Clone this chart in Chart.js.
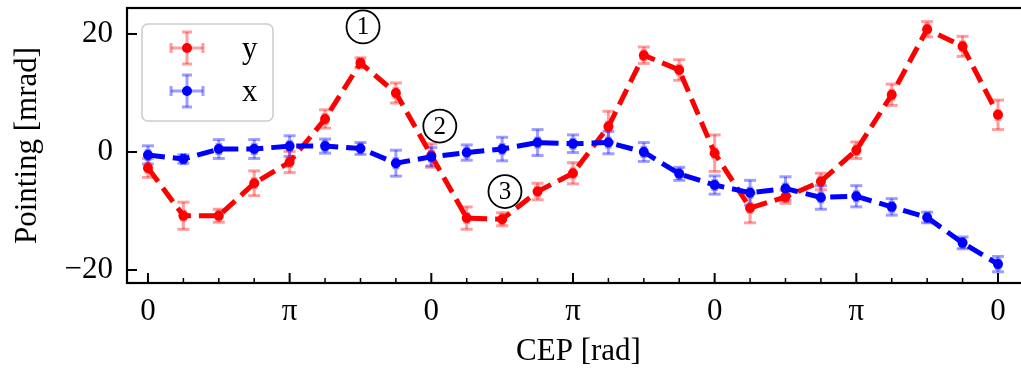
<!DOCTYPE html>
<html>
<head>
<meta charset="utf-8">
<script src="https://cdn.jsdelivr.net/npm/chart.js@4"></script>
<style>
  html, body { margin: 0; padding: 0; background: #fff; overflow: hidden; }
  #wrap { width: 1035px; height: 369px; }
</style>
</head>
<body>
<div id="wrap"><canvas id="chart"></canvas></div>
<script>
// CEP steps in units of pi/4
const cepSteps = [0, 1, 2, 3, 4, 5, 6, 7, 8, 9, 10, 11, 12, 13, 14, 15, 16, 17, 18, 19, 20, 21, 22, 23, 24];
const cepErr = 0.04; // rad

// pointing along y [mrad]
const pointingY = [-2.7, -10.8, -10.8, -5.3, -1.7, 5.6, 15.1, 10.0, -0.6, -11.2, -11.4, -6.7, -3.6,
                   4.3, 16.4, 13.9, -0.2, -9.5, -7.6, -5.0, 0.3, 9.7, 20.8, 17.9, 6.3];
const errY = [1.6, 2.3, 1.1, 2.1, 1.8, 1.55, 0.85, 1.7, 2.0, 1.9, 1.1, 1.4, 1.8,
              2.6, 1.4, 1.75, 3.1, 2.5, 1.1, 1.4, 1.4, 1.8, 1.3, 1.7, 2.5];

// pointing along x [mrad]
const pointingX = [-0.5, -1.2, 0.5, 0.5, 1.0, 1.0, 0.6, -1.9, -0.8, -0.1, 0.5, 1.6, 1.4,
                   1.6, 0.0, -3.7, -5.6, -6.9, -6.2, -7.7, -7.5, -9.3, -11.1, -15.4, -19.0];
const errX = [1.55, 0.7, 1.6, 1.6, 1.75, 1.2, 1.0, 2.2, 1.55, 1.3, 2.0, 2.2, 1.5,
              1.9, 1.6, 1.1, 1.55, 2.1, 2.0, 2.0, 1.8, 1.4, 0.9, 1.0, 1.3];

// axis ticks
const piTicks = [0, 1, 2, 3, 4, 5, 6];
const piTickLabels = ['0', 'π', '0', 'π', '0', 'π', '0'];
const yTicks = [-20, 0, 20];

// circled markers: label, cep in units of pi, pointing
const markLabels = ['1', '2', '3'];
const markCep = [1.518, 2.06, 2.52];
const markPointing = [21.2, 4.4, -6.7];

const SERIF = '"Liberation Serif", "Times New Roman", serif';
const PI = Math.PI;

function toPoints(vals) {
  return cepSteps.map((s, i) => ({ x: s * PI / 4, y: vals[i] }));
}

function drawBar(ctx, x1, y1, x2, y2) {
  ctx.beginPath();
  ctx.moveTo(x1, y1);
  ctx.lineTo(x2, y2);
  ctx.stroke();
}

function drawErrGlyph(ctx, cx, cy, dx, dy, cap, color) {
  ctx.strokeStyle = color;
  ctx.lineWidth = 3;
  drawBar(ctx, cx - dx, cy, cx + dx, cy);
  drawBar(ctx, cx, cy - dy, cx, cy + dy);
  drawBar(ctx, cx - dx, cy - cap, cx - dx, cy + cap);
  drawBar(ctx, cx + dx, cy - cap, cx + dx, cy + cap);
  drawBar(ctx, cx - cap, cy - dy, cx + cap, cy - dy);
  drawBar(ctx, cx - cap, cy + dy, cx + cap, cy + dy);
}

// error bars under the dashed lines
const errorBars = {
  id: 'errorBars',
  beforeDatasetsDraw(chart) {
    const { ctx, scales: { x, y } } = chart;
    ctx.save();
    chart.data.datasets.forEach((ds, di) => {
      const meta = chart.getDatasetMeta(di);
      meta.data.forEach((pt, i) => {
        const p = ds.data[i];
        const dy = Math.abs(y.getPixelForValue(p.y + ds.errors[i]) - pt.y);
        const dx = Math.abs(x.getPixelForValue(p.x + cepErr) - pt.x);
        drawErrGlyph(ctx, pt.x, pt.y, dx, dy, 6, ds.errColor);
      });
    });
    ctx.restore();
  }
};

// frame, inward ticks, legend and markers
const decorations = {
  id: 'decorations',
  afterDraw(chart) {
    const { ctx, chartArea: a, scales: { x, y } } = chart;
    ctx.save();
    ctx.strokeStyle = '#000';
    ctx.lineWidth = 2.2;
    ctx.strokeRect(a.left, a.top, a.right - a.left, a.bottom - a.top);

    // ticks pointing into the plot
    ctx.lineWidth = 2;
    piTicks.forEach(k => {
      const px = x.getPixelForValue(k * PI);
      drawBar(ctx, px, a.bottom, px, a.bottom - 10);
    });
    ctx.lineWidth = 1.5;
    cepSteps.forEach(s => {
      if (s % 4 === 0) return;
      const px = x.getPixelForValue(s * PI / 4);
      drawBar(ctx, px, a.bottom, px, a.bottom - 5);
    });
    ctx.lineWidth = 2;
    yTicks.forEach(v => {
      const py = y.getPixelForValue(v);
      drawBar(ctx, a.left, py, a.left + 10, py);
    });

    // legend
    const lx = 142, ly = 24, lw = 131, lh = 97, r = 6;
    ctx.beginPath();
    ctx.roundRect(lx, ly, lw, lh, r);
    ctx.fillStyle = 'rgba(255,255,255,0.8)';
    ctx.fill();
    ctx.strokeStyle = '#cccccc';
    ctx.lineWidth = 1.5;
    ctx.stroke();
    const legendOrder = [0, 1];
    legendOrder.forEach((di, row) => {
      const ds = chart.data.datasets[di];
      const cy = 48 + row * 43;
      drawErrGlyph(ctx, 187, cy, 16, 16, 5, ds.errColor);
      ctx.fillStyle = ds.borderColor;
      ctx.beginPath();
      ctx.arc(187, cy, 5, 0, 2 * PI);
      ctx.fill();
      ctx.fillStyle = '#000';
      ctx.font = '31px ' + SERIF;
      ctx.textAlign = 'left';
      ctx.textBaseline = 'alphabetic';
      ctx.fillText(ds.label, 242, cy + 10);
    });

    // circled markers
    ctx.font = '25px ' + SERIF;
    ctx.textAlign = 'center';
    ctx.textBaseline = 'middle';
    markLabels.forEach((t, i) => {
      const cx = x.getPixelForValue(markCep[i] * PI);
      const cy = y.getPixelForValue(markPointing[i]);
      ctx.beginPath();
      ctx.arc(cx, cy, 16.5, 0, 2 * PI);
      ctx.strokeStyle = '#000';
      ctx.lineWidth = 1.8;
      ctx.stroke();
      ctx.fillStyle = '#000';
      ctx.fillText(t, cx, cy + 1);
    });
    ctx.restore();
  }
};

const dashed = [17, 8];

new Chart(document.getElementById('chart'), {
  type: 'scatter',
  data: {
    datasets: [
      {
        label: 'y',
        data: toPoints(pointingY),
        errors: errY,
        errColor: 'rgba(255,0,0,0.38)',
        borderColor: '#ff0000',
        backgroundColor: '#ff0000',
        borderWidth: 5,
        borderDash: dashed,
        showLine: true,
        pointRadius: 5,
        pointBorderWidth: 0,
        order: 1
      },
      {
        label: 'x',
        data: toPoints(pointingX),
        errors: errX,
        errColor: 'rgba(0,0,255,0.38)',
        borderColor: '#0000ff',
        backgroundColor: '#0000ff',
        borderWidth: 5,
        borderDash: dashed,
        showLine: true,
        pointRadius: 5,
        pointBorderWidth: 0,
        order: 0
      }
    ]
  },
  options: {
    responsive: true,
    maintainAspectRatio: false,
    animation: false,
    layout: { padding: { top: 8, right: 5, left: 0, bottom: 0 } },
    plugins: {
      legend: { display: false },
      tooltip: { enabled: false }
    },
    scales: {
      x: {
        type: 'linear',
        min: -0.148 * PI,
        max: 6.226 * PI,
        grid: { display: false, drawTicks: false },
        border: { display: false },
        afterBuildTicks: s => { s.ticks = piTicks.map(k => ({ value: k * PI })); },
        afterFit: s => { s.height = 86; s.paddingLeft = 0; s.paddingRight = 0; },
        ticks: {
          padding: 10,
          color: '#000',
          font: { family: SERIF, size: 31 },
          callback: (v, i) => piTickLabels[i]
        },
        title: {
          display: true,
          text: 'CEP [rad]',
          color: '#000',
          font: { family: SERIF, size: 31, lineHeight: 1 },
          padding: { top: 0, bottom: 2 }
        }
      },
      y: {
        min: -22.2,
        max: 24.4,
        grid: { display: false, drawTicks: false },
        border: { display: false },
        afterBuildTicks: s => { s.ticks = yTicks.map(v => ({ value: v })); },
        afterFit: s => { s.width = 127; s.paddingTop = 0; s.paddingBottom = 0; },
        ticks: {
          padding: 14,
          color: '#000',
          font: { family: SERIF, size: 31 },
          callback: v => (v < 0 ? '\u2212' + Math.abs(v) : String(v))
        },
        title: {
          display: true,
          text: 'Pointing [mrad]',
          color: '#000',
          font: { family: SERIF, size: 31, lineHeight: 1 },
          padding: { top: 12, bottom: 0 }
        }
      }
    }
  },
  plugins: [errorBars, decorations]
});
</script>
</body>
</html>
